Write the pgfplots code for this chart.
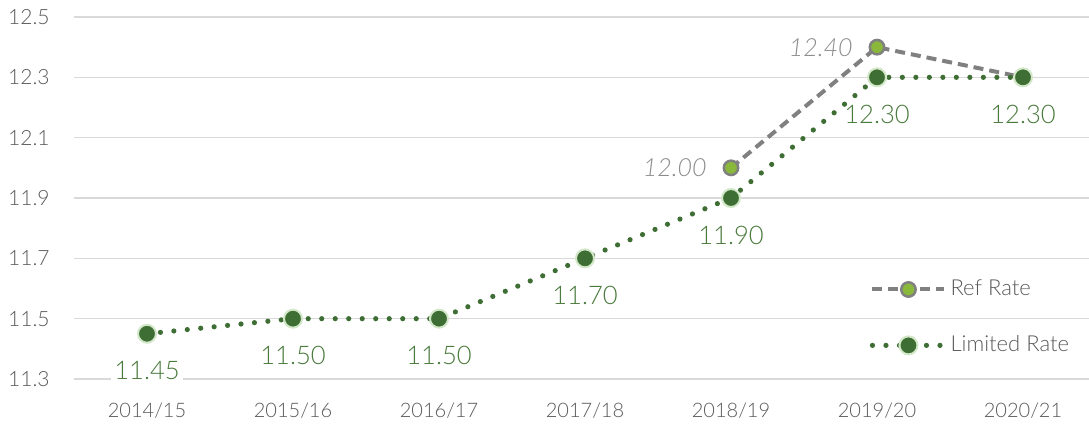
\documentclass[border=0pt]{standalone}
\usepackage{fontspec}
\setmainfont{Lato Light}
\usepackage{pgfplots}
\pgfplotsset{compat=1.18}
\definecolor{gridgray}{HTML}{D9D9D9}
\definecolor{ticktext}{HTML}{595959}
\definecolor{dkgreen}{HTML}{3E6E34}
\definecolor{halo}{HTML}{D3E8C8}
\definecolor{lblgreen}{HTML}{4A7A3D}
\definecolor{refgreen}{HTML}{8AB83A}
\definecolor{refgray}{HTML}{808080}
\definecolor{reflbl}{HTML}{8C8C8C}
\begin{document}
\begin{tikzpicture}
\useasboundingbox (-37pt,-25pt) rectangle (507.5pt,189.5pt);
\begin{axis}[
  at={(0,0)}, anchor=south west,
  scale only axis, width=507.5pt, height=181pt,
  xmin=-0.5, xmax=6.452, ymin=11.3, ymax=12.5,
  clip=false,
  axis line style={draw=none},
  major tick length=0pt,
  ytick={11.3,11.5,11.7,11.9,12.1,12.3,12.5},
  yticklabels={11.3,11.5,11.7,11.9,12.1,12.3,12.5},
  xtick={0,1,2,3,4,5,6},
  xticklabels={2014/15,2015/16,2016/17,2017/18,2018/19,2019/20,2020/21},
  ymajorgrids,
  grid style={draw=gridgray, line width=0.75pt},
  tick label style={text=ticktext},
  yticklabel style={font=\fontsize{10.5}{12}\selectfont, inner sep=0pt, anchor=east, xshift=-12pt},
  xticklabel style={font=\fontsize{10}{12}\selectfont, inner sep=0pt, anchor=base, yshift=-19.2pt},
  legend cell align=left,
  legend style={draw=none, fill=none, at={(0.7837,0.1699)}, anchor=west,
    inner sep=0pt, row sep=15pt,
    font=\fontsize{11}{13}\selectfont, text=ticktext,
    nodes={inner sep=1.75pt}},
  legend image code/.code={\draw[mark repeat=2,mark phase=2] plot coordinates {(0pt,0pt)(18pt,0pt)(36pt,0pt)};},
]
\addplot[draw=refgray, line width=2pt, dash pattern=on 5pt off 3pt,
  mark=*, mark size=3.6pt, mark options={solid, draw=refgray, line width=1.25pt, fill=refgreen}]
  coordinates {(4,12.00) (5,12.40) (6,12.30)};
\addlegendentry{Ref Rate}
\addplot[draw=dkgreen, line width=2.6pt, line cap=round, dash pattern=on 0pt off 6.75pt,
  mark=*, mark size=4.5pt, mark options={solid, draw=halo, line width=1pt, fill=dkgreen}]
  coordinates {(0,11.45) (1,11.50) (2,11.50) (3,11.70) (4,11.90) (5,12.30) (6,12.30)};
\addlegendentry{Limited Rate}
% Ref Rate labels
\addplot[draw=none, mark=none, forget plot, point meta=explicit symbolic,
  nodes near coords,
  every node near coord/.style={anchor=east, inner sep=0pt, xshift=-12pt,
    font=\fontsize{12.5}{15}\selectfont\itshape, text=reflbl}]
  coordinates {(4,12.00)[12.00] (5,12.40)[12.40]};
% Limited Rate labels
\addplot[draw=none, mark=none, forget plot, point meta=explicit symbolic,
  nodes near coords,
  every node near coord/.style={anchor=center, inner sep=1pt, yshift=-18.5pt,
    font=\fontsize{12.8}{15}\selectfont, text=lblgreen}]
  coordinates {(1,11.50)[11.50] (2,11.50)[11.50] (3,11.70)[11.70] (4,11.90)[11.90] (5,12.30)[12.30] (6,12.30)[12.30]};
\addplot[draw=none, mark=none, forget plot, point meta=explicit symbolic,
  nodes near coords,
  every node near coord/.style={anchor=center, inner sep=1.5pt, fill=white, yshift=-18.5pt,
    font=\fontsize{12.8}{15}\selectfont, text=lblgreen}]
  coordinates {(0,11.45)[11.45]};
\end{axis}
\end{tikzpicture}
\end{document}
